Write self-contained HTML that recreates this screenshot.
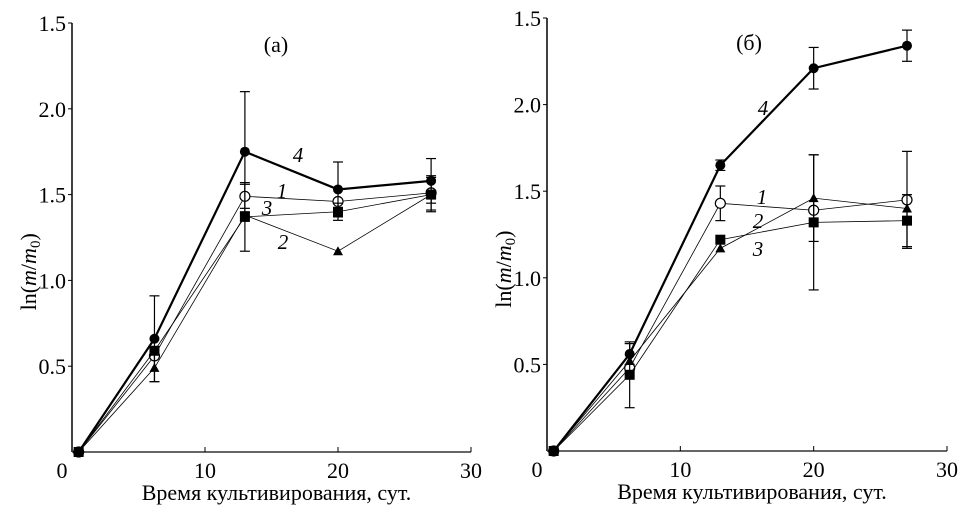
<!DOCTYPE html>
<html><head><meta charset="utf-8">
<style>
html,body{margin:0;padding:0;background:#fff;}
svg{display:block;font-family:"Liberation Serif","DejaVu Serif",serif;}
</style></head>
<body>
<svg id="chart" width="980" height="515" viewBox="0 0 980 515" xmlns="http://www.w3.org/2000/svg"></svg>
<script>
const xValues = [0.5, 6.2, 13, 20, 27];
// Panel (a)
const aS1 = [0, 0.56, 1.49, 1.46, 1.51];
const aS2 = [0, 0.49, 1.38, 1.17, 1.50];
const aS3 = [0, 0.59, 1.37, 1.40, 1.50];
const aS4 = [0, 0.66, 1.75, 1.53, 1.58];
const aE1 = [0, 0, 0.07, 0, 0.1];
const aE2 = [0, 0.08, 0, 0, 0];
const aE3 = [0, 0, 0.2, 0.05, 0.1];
const aE4 = [0, 0.25, 0.35, 0.16, 0.13];
// Panel (б)
const bS1 = [0, 0.48, 1.43, 1.39, 1.45];
const bS2 = [0, 0.52, 1.17, 1.46, 1.40];
const bS3 = [0, 0.44, 1.22, 1.32, 1.33];
const bS4 = [0, 0.56, 1.65, 2.21, 2.34];
const bE1 = [0, 0, 0.1, 0, 0.28];
const bE2 = [0, 0, 0, 0.25, 0];
const bE3 = [0, 0.19, 0, 0.39, 0.15];
const bE4 = [0, 0.06, 0.03, 0.12, 0.09];
const yTickValues = [0.5, 1.0, 1.5, 2.0, 2.5];
const yTickLabels = ["0.5", "1.0", "1.5", "2.0", "1.5"];
const xTickValues = [0, 10, 20, 30];
const xTickLabels = ["0", "10", "20", "30"];

const svg = document.getElementById('chart');
const NS = 'http://www.w3.org/2000/svg';
function mk(tag, attrs, parent, text) {
  const e = document.createElementNS(NS, tag);
  for (const k in attrs) e.setAttribute(k, attrs[k]);
  if (text !== undefined) e.textContent = text;
  parent.appendChild(e);
  return e;
}

function panel(cfg) {
  const g = mk('g', {}, svg);
  
  
  const X = v => cfg.x0 + (cfg.x30 - cfg.x0) * v / 30;
  const Y = v => cfg.y0 - (cfg.y0 - cfg.y25) * v / 2.5;
  const ya = mk('line', {x1: cfg.x0, y1: Y(0), x2: cfg.x0, y2: Y(2.5), stroke: '#000', 'stroke-width': 1.5}, g);
  
  
  const xa = mk('line', {x1: cfg.x0, y1: Y(0), x2: X(30), y2: Y(0), stroke: '#333', 'stroke-width': 1.5}, g);
  
  
  yTickValues.forEach((v, i) => {
    mk('line', {x1: cfg.x0 - 4, y1: Y(v), x2: cfg.x0, y2: Y(v), stroke: '#000', 'stroke-width': 1}, g);
    const t = mk('text', {x: cfg.x0 - 6, y: Y(v) + 8, 'text-anchor': 'end', 'font-size': 22}, g, yTickLabels[i]);
    
    
  });
  xTickValues.forEach((v, i) => {
    if (v > 0) mk('line', {x1: X(v), y1: Y(0), x2: X(v), y2: Y(0) - 5, stroke: '#000', 'stroke-width': 1}, g);
    const t = mk('text', {x: X(v) - (v === 0 ? 10 : 0), y: Y(0) + 26, 'text-anchor': 'middle', 'font-size': 22}, g, xTickLabels[i]);
    
    
  });
  const xt = mk('text', {x: X(15) + 5, y: Y(0) + 48, 'text-anchor': 'middle', 'font-size': 22}, g, 'Время культивирования, сут.');
  
  
  const yt = mk('text', {transform: `translate(${cfg.x0 - 36},${Y(1.05)}) rotate(-90)`, 'text-anchor': 'middle', 'font-size': 22}, g);
  
  
  yt.innerHTML = 'ln(<tspan font-style="italic">m</tspan>/<tspan font-style="italic">m</tspan><tspan font-size="15" dy="4">0</tspan><tspan dy="-4">)</tspan>';
  const pt = mk('text', {x: cfg.titleX, y: cfg.titleY, 'text-anchor': 'middle', 'font-size': 22}, g, cfg.title);
  
  

  cfg.series.forEach(s => {
    const sg = mk('g', {}, g);
    
    
    const pts = s.vals.map((v, i) => X(xValues[i]) + ',' + Y(v)).join(' ');
    mk('polyline', {points: pts, fill: 'none', stroke: '#000', 'stroke-width': s.id === 4 ? 2.2 : 0.8}, sg);
    s.vals.forEach((v, i) => {
      const e = s.err[i];
      const cx = X(xValues[i]), cy = Y(v);
      if (e > 0) {
        mk('line', {x1: cx, y1: Y(v - e), x2: cx, y2: Y(v + e), stroke: '#000', 'stroke-width': 1.2}, sg);
        mk('line', {x1: cx - 5, y1: Y(v - e), x2: cx + 5, y2: Y(v - e), stroke: '#000', 'stroke-width': 1.2}, sg);
        mk('line', {x1: cx - 5, y1: Y(v + e), x2: cx + 5, y2: Y(v + e), stroke: '#000', 'stroke-width': 1.2}, sg);
      }
      let m;
      if (s.id === 4) m = mk('circle', {cx, cy, r: 5, fill: '#000'}, sg);
      else if (s.id === 1) m = mk('circle', {cx, cy, r: 5, fill: '#fff', stroke: '#000', 'stroke-width': 1.2}, sg);
      else if (s.id === 2) m = mk('polygon', {points: `${cx},${cy - 5} ${cx - 5},${cy + 4} ${cx + 5},${cy + 4}`, fill: '#000'}, sg);
      else m = mk('rect', {x: cx - 5, y: cy - 5, width: 10, height: 10, fill: '#000'}, sg);
      
      
    });
    const lb = mk('text', {x: s.lx, y: s.ly, 'text-anchor': 'middle', 'font-size': 21, 'font-style': 'italic'}, sg, String(s.id));
    
    
  });
}

panel({name: 'panel-a', title: '(a)', titleX: 276, titleY: 52, x0: 72, x30: 471, y0: 452, y25: 23,
  series: [
    {id: 1, vals: aS1, err: aE1, lx: 282, ly: 198},
    {id: 2, vals: aS2, err: aE2, lx: 283, ly: 249},
    {id: 3, vals: aS3, err: aE3, lx: 267, ly: 215},
    {id: 4, vals: aS4, err: aE4, lx: 298, ly: 162}]});
panel({name: 'panel-b', title: '(б)', titleX: 749, titleY: 50, x0: 547, x30: 947, y0: 451, y25: 18,
  series: [
    {id: 1, vals: bS1, err: bE1, lx: 762, ly: 204},
    {id: 2, vals: bS2, err: bE2, lx: 758, ly: 228},
    {id: 3, vals: bS3, err: bE3, lx: 758, ly: 256},
    {id: 4, vals: bS4, err: bE4, lx: 763, ly: 115}]});
</script>
</body></html>
